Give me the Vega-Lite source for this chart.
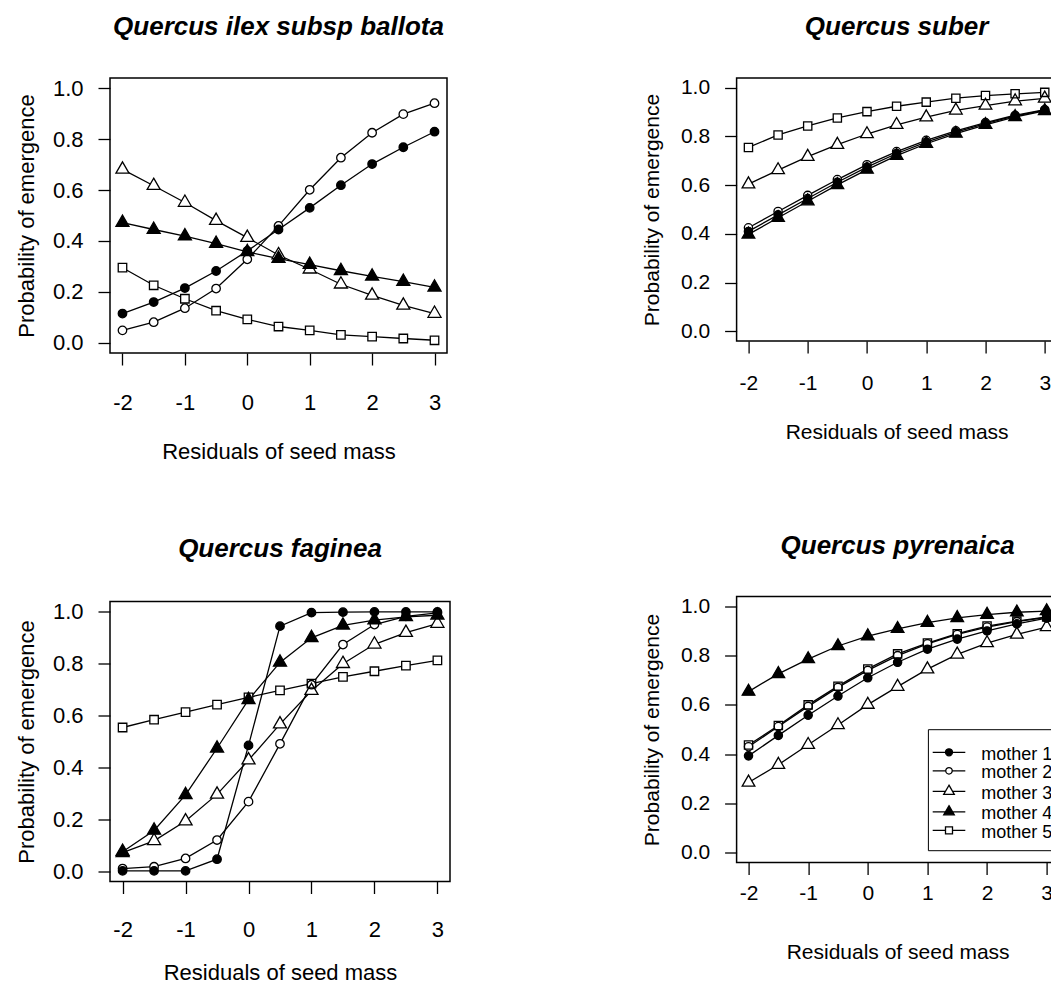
{
  "$schema": "https://vega.github.io/schema/vega-lite/v6.json",
  "background": "white",
  "padding": {"left": 14, "top": 12, "right": 0, "bottom": 0},
  "config": {
    "font": "Liberation Sans",
    "view": {"stroke": "black", "strokeWidth": 1.5},
    "axis": {"domain": false, "grid": false, "ticks": true, "tickColor": "black", "tickSize": 12, "tickWidth": 1.3, "labelColor": "black", "labelFont": "Liberation Sans", "titleColor": "black", "titleFont": "Liberation Sans", "titleFontWeight": "normal", "labelFlush": false, "labelOverlap": false, "labelBound": false},
    "title": {"font": "Liberation Sans", "fontSize": 26, "fontWeight": "bold", "fontStyle": "italic", "color": "black", "anchor": "middle", "frame": "group"}
  },
  "datasets": {
    "ilex": [
      {"x": -2, "p": 0.115, "mother": "mother 1"}, {"x": -1.5, "p": 0.160, "mother": "mother 1"}, {"x": -1, "p": 0.215, "mother": "mother 1"}, {"x": -0.5, "p": 0.282, "mother": "mother 1"}, {"x": 0, "p": 0.361, "mother": "mother 1"}, {"x": 0.5, "p": 0.445, "mother": "mother 1"}, {"x": 1, "p": 0.530, "mother": "mother 1"}, {"x": 1.5, "p": 0.619, "mother": "mother 1"}, {"x": 2, "p": 0.702, "mother": "mother 1"}, {"x": 2.5, "p": 0.768, "mother": "mother 1"}, {"x": 3, "p": 0.829, "mother": "mother 1"},
      {"x": -2, "p": 0.049, "mother": "mother 2"}, {"x": -1.5, "p": 0.081, "mother": "mother 2"}, {"x": -1, "p": 0.136, "mother": "mother 2"}, {"x": -0.5, "p": 0.213, "mother": "mother 2"}, {"x": 0, "p": 0.328, "mother": "mother 2"}, {"x": 0.5, "p": 0.459, "mother": "mother 2"}, {"x": 1, "p": 0.601, "mother": "mother 2"}, {"x": 1.5, "p": 0.727, "mother": "mother 2"}, {"x": 2, "p": 0.825, "mother": "mother 2"}, {"x": 2.5, "p": 0.898, "mother": "mother 2"}, {"x": 3, "p": 0.941, "mother": "mother 2"},
      {"x": -2, "p": 0.681, "mother": "mother 3"}, {"x": -1.5, "p": 0.617, "mother": "mother 3"}, {"x": -1, "p": 0.551, "mother": "mother 3"}, {"x": -0.5, "p": 0.480, "mother": "mother 3"}, {"x": 0, "p": 0.413, "mother": "mother 3"}, {"x": 0.5, "p": 0.345, "mother": "mother 3"}, {"x": 1, "p": 0.289, "mother": "mother 3"}, {"x": 1.5, "p": 0.230, "mother": "mother 3"}, {"x": 2, "p": 0.186, "mother": "mother 3"}, {"x": 2.5, "p": 0.147, "mother": "mother 3"}, {"x": 3, "p": 0.115, "mother": "mother 3"},
      {"x": -2, "p": 0.472, "mother": "mother 4"}, {"x": -1.5, "p": 0.445, "mother": "mother 4"}, {"x": -1, "p": 0.419, "mother": "mother 4"}, {"x": -0.5, "p": 0.390, "mother": "mother 4"}, {"x": 0, "p": 0.357, "mother": "mother 4"}, {"x": 0.5, "p": 0.331, "mother": "mother 4"}, {"x": 1, "p": 0.307, "mother": "mother 4"}, {"x": 1.5, "p": 0.283, "mother": "mother 4"}, {"x": 2, "p": 0.261, "mother": "mother 4"}, {"x": 2.5, "p": 0.240, "mother": "mother 4"}, {"x": 3, "p": 0.218, "mother": "mother 4"},
      {"x": -2, "p": 0.295, "mother": "mother 5"}, {"x": -1.5, "p": 0.226, "mother": "mother 5"}, {"x": -1, "p": 0.173, "mother": "mother 5"}, {"x": -0.5, "p": 0.126, "mother": "mother 5"}, {"x": 0, "p": 0.092, "mother": "mother 5"}, {"x": 0.5, "p": 0.064, "mother": "mother 5"}, {"x": 1, "p": 0.049, "mother": "mother 5"}, {"x": 1.5, "p": 0.031, "mother": "mother 5"}, {"x": 2, "p": 0.024, "mother": "mother 5"}, {"x": 2.5, "p": 0.017, "mother": "mother 5"}, {"x": 3, "p": 0.010, "mother": "mother 5"}
    ],
    "suber": [
      {"x": -2, "p": 0.410, "mother": "mother 1"}, {"x": -1.5, "p": 0.478, "mother": "mother 1"}, {"x": -1, "p": 0.545, "mother": "mother 1"}, {"x": -0.5, "p": 0.612, "mother": "mother 1"}, {"x": 0, "p": 0.674, "mother": "mother 1"}, {"x": 0.5, "p": 0.730, "mother": "mother 1"}, {"x": 1, "p": 0.777, "mother": "mother 1"}, {"x": 1.5, "p": 0.818, "mother": "mother 1"}, {"x": 2, "p": 0.853, "mother": "mother 1"}, {"x": 2.5, "p": 0.884, "mother": "mother 1"}, {"x": 3, "p": 0.908, "mother": "mother 1"},
      {"x": -2, "p": 0.425, "mother": "mother 2"}, {"x": -1.5, "p": 0.492, "mother": "mother 2"}, {"x": -1, "p": 0.558, "mother": "mother 2"}, {"x": -0.5, "p": 0.623, "mother": "mother 2"}, {"x": 0, "p": 0.684, "mother": "mother 2"}, {"x": 0.5, "p": 0.738, "mother": "mother 2"}, {"x": 1, "p": 0.784, "mother": "mother 2"}, {"x": 1.5, "p": 0.823, "mother": "mother 2"}, {"x": 2, "p": 0.857, "mother": "mother 2"}, {"x": 2.5, "p": 0.887, "mother": "mother 2"}, {"x": 3, "p": 0.910, "mother": "mother 2"},
      {"x": -2, "p": 0.604, "mother": "mother 3"}, {"x": -1.5, "p": 0.662, "mother": "mother 3"}, {"x": -1, "p": 0.717, "mother": "mother 3"}, {"x": -0.5, "p": 0.766, "mother": "mother 3"}, {"x": 0, "p": 0.810, "mother": "mother 3"}, {"x": 0.5, "p": 0.848, "mother": "mother 3"}, {"x": 1, "p": 0.879, "mother": "mother 3"}, {"x": 1.5, "p": 0.907, "mother": "mother 3"}, {"x": 2, "p": 0.927, "mother": "mother 3"}, {"x": 2.5, "p": 0.945, "mother": "mother 3"}, {"x": 3, "p": 0.956, "mother": "mother 3"},
      {"x": -2, "p": 0.398, "mother": "mother 4"}, {"x": -1.5, "p": 0.466, "mother": "mother 4"}, {"x": -1, "p": 0.534, "mother": "mother 4"}, {"x": -0.5, "p": 0.601, "mother": "mother 4"}, {"x": 0, "p": 0.664, "mother": "mother 4"}, {"x": 0.5, "p": 0.721, "mother": "mother 4"}, {"x": 1, "p": 0.770, "mother": "mother 4"}, {"x": 1.5, "p": 0.812, "mother": "mother 4"}, {"x": 2, "p": 0.848, "mother": "mother 4"}, {"x": 2.5, "p": 0.880, "mother": "mother 4"}, {"x": 3, "p": 0.905, "mother": "mother 4"},
      {"x": -2, "p": 0.755, "mother": "mother 5"}, {"x": -1.5, "p": 0.806, "mother": "mother 5"}, {"x": -1, "p": 0.843, "mother": "mother 5"}, {"x": -0.5, "p": 0.876, "mother": "mother 5"}, {"x": 0, "p": 0.902, "mother": "mother 5"}, {"x": 0.5, "p": 0.924, "mother": "mother 5"}, {"x": 1, "p": 0.941, "mother": "mother 5"}, {"x": 1.5, "p": 0.957, "mother": "mother 5"}, {"x": 2, "p": 0.968, "mother": "mother 5"}, {"x": 2.5, "p": 0.975, "mother": "mother 5"}, {"x": 3, "p": 0.981, "mother": "mother 5"}
    ],
    "faginea": [
      {"x": -2, "p": 0.001, "mother": "mother 1"}, {"x": -1.5, "p": 0.001, "mother": "mother 1"}, {"x": -1, "p": 0.001, "mother": "mother 1"}, {"x": -0.5, "p": 0.046, "mother": "mother 1"}, {"x": 0, "p": 0.485, "mother": "mother 1"}, {"x": 0.5, "p": 0.945, "mother": "mother 1"}, {"x": 1, "p": 0.997, "mother": "mother 1"}, {"x": 1.5, "p": 0.999, "mother": "mother 1"}, {"x": 2, "p": 1.0, "mother": "mother 1"}, {"x": 2.5, "p": 1.0, "mother": "mother 1"}, {"x": 3, "p": 1.0, "mother": "mother 1"},
      {"x": -2, "p": 0.010, "mother": "mother 2"}, {"x": -1.5, "p": 0.017, "mother": "mother 2"}, {"x": -1, "p": 0.049, "mother": "mother 2"}, {"x": -0.5, "p": 0.120, "mother": "mother 2"}, {"x": 0, "p": 0.268, "mother": "mother 2"}, {"x": 0.5, "p": 0.491, "mother": "mother 2"}, {"x": 1, "p": 0.719, "mother": "mother 2"}, {"x": 1.5, "p": 0.874, "mother": "mother 2"}, {"x": 2, "p": 0.951, "mother": "mother 2"}, {"x": 2.5, "p": 0.983, "mother": "mother 2"}, {"x": 3, "p": 0.996, "mother": "mother 2"},
      {"x": -2, "p": 0.071, "mother": "mother 3"}, {"x": -1.5, "p": 0.117, "mother": "mother 3"}, {"x": -1, "p": 0.193, "mother": "mother 3"}, {"x": -0.5, "p": 0.296, "mother": "mother 3"}, {"x": 0, "p": 0.428, "mother": "mother 3"}, {"x": 0.5, "p": 0.567, "mother": "mother 3"}, {"x": 1, "p": 0.696, "mother": "mother 3"}, {"x": 1.5, "p": 0.800, "mother": "mother 3"}, {"x": 2, "p": 0.875, "mother": "mother 3"}, {"x": 2.5, "p": 0.920, "mother": "mother 3"}, {"x": 3, "p": 0.955, "mother": "mother 3"},
      {"x": -2, "p": 0.075, "mother": "mother 4"}, {"x": -1.5, "p": 0.157, "mother": "mother 4"}, {"x": -1, "p": 0.294, "mother": "mother 4"}, {"x": -0.5, "p": 0.474, "mother": "mother 4"}, {"x": 0, "p": 0.661, "mother": "mother 4"}, {"x": 0.5, "p": 0.805, "mother": "mother 4"}, {"x": 1, "p": 0.900, "mother": "mother 4"}, {"x": 1.5, "p": 0.948, "mother": "mother 4"}, {"x": 2, "p": 0.968, "mother": "mother 4"}, {"x": 2.5, "p": 0.981, "mother": "mother 4"}, {"x": 3, "p": 0.987, "mother": "mother 4"},
      {"x": -2, "p": 0.554, "mother": "mother 5"}, {"x": -1.5, "p": 0.584, "mother": "mother 5"}, {"x": -1, "p": 0.613, "mother": "mother 5"}, {"x": -0.5, "p": 0.642, "mother": "mother 5"}, {"x": 0, "p": 0.670, "mother": "mother 5"}, {"x": 0.5, "p": 0.697, "mother": "mother 5"}, {"x": 1, "p": 0.723, "mother": "mother 5"}, {"x": 1.5, "p": 0.749, "mother": "mother 5"}, {"x": 2, "p": 0.771, "mother": "mother 5"}, {"x": 2.5, "p": 0.793, "mother": "mother 5"}, {"x": 3, "p": 0.813, "mother": "mother 5"}
    ],
    "pyrenaica": [
      {"x": -2, "p": 0.393, "mother": "mother 1"}, {"x": -1.5, "p": 0.476, "mother": "mother 1"}, {"x": -1, "p": 0.558, "mother": "mother 1"}, {"x": -0.5, "p": 0.636, "mother": "mother 1"}, {"x": 0, "p": 0.710, "mother": "mother 1"}, {"x": 0.5, "p": 0.773, "mother": "mother 1"}, {"x": 1, "p": 0.826, "mother": "mother 1"}, {"x": 1.5, "p": 0.867, "mother": "mother 1"}, {"x": 2, "p": 0.900, "mother": "mother 1"}, {"x": 2.5, "p": 0.929, "mother": "mother 1"}, {"x": 3, "p": 0.952, "mother": "mother 1"},
      {"x": -2, "p": 0.430, "mother": "mother 2"}, {"x": -1.5, "p": 0.512, "mother": "mother 2"}, {"x": -1, "p": 0.594, "mother": "mother 2"}, {"x": -0.5, "p": 0.671, "mother": "mother 2"}, {"x": 0, "p": 0.740, "mother": "mother 2"}, {"x": 0.5, "p": 0.800, "mother": "mother 2"}, {"x": 1, "p": 0.848, "mother": "mother 2"}, {"x": 1.5, "p": 0.886, "mother": "mother 2"}, {"x": 2, "p": 0.916, "mother": "mother 2"}, {"x": 2.5, "p": 0.938, "mother": "mother 2"}, {"x": 3, "p": 0.955, "mother": "mother 2"},
      {"x": -2, "p": 0.285, "mother": "mother 3"}, {"x": -1.5, "p": 0.357, "mother": "mother 3"}, {"x": -1, "p": 0.438, "mother": "mother 3"}, {"x": -0.5, "p": 0.518, "mother": "mother 3"}, {"x": 0, "p": 0.601, "mother": "mother 3"}, {"x": 0.5, "p": 0.674, "mother": "mother 3"}, {"x": 1, "p": 0.745, "mother": "mother 3"}, {"x": 1.5, "p": 0.805, "mother": "mother 3"}, {"x": 2, "p": 0.851, "mother": "mother 3"}, {"x": 2.5, "p": 0.886, "mother": "mother 3"}, {"x": 3, "p": 0.916, "mother": "mother 3"},
      {"x": -2, "p": 0.654, "mother": "mother 4"}, {"x": -1.5, "p": 0.726, "mother": "mother 4"}, {"x": -1, "p": 0.786, "mother": "mother 4"}, {"x": -0.5, "p": 0.839, "mother": "mother 4"}, {"x": 0, "p": 0.879, "mother": "mother 4"}, {"x": 0.5, "p": 0.909, "mother": "mother 4"}, {"x": 1, "p": 0.934, "mother": "mother 4"}, {"x": 1.5, "p": 0.953, "mother": "mother 4"}, {"x": 2, "p": 0.966, "mother": "mother 4"}, {"x": 2.5, "p": 0.976, "mother": "mother 4"}, {"x": 3, "p": 0.981, "mother": "mother 4"},
      {"x": -2, "p": 0.437, "mother": "mother 5"}, {"x": -1.5, "p": 0.516, "mother": "mother 5"}, {"x": -1, "p": 0.600, "mother": "mother 5"}, {"x": -0.5, "p": 0.676, "mother": "mother 5"}, {"x": 0, "p": 0.746, "mother": "mother 5"}, {"x": 0.5, "p": 0.807, "mother": "mother 5"}, {"x": 1, "p": 0.851, "mother": "mother 5"}, {"x": 1.5, "p": 0.889, "mother": "mother 5"}, {"x": 2, "p": 0.920, "mother": "mother 5"}, {"x": 2.5, "p": 0.940, "mother": "mother 5"}, {"x": 3, "p": 0.957, "mother": "mother 5"}
    ]
  },
  "spacing": 188.6,
  "resolve": {"scale": {"shape": "independent", "fill": "independent"}, "legend": {"shape": "independent", "fill": "independent"}},
  "hconcat": [
    {
      "spacing": 71.5,
      "resolve": {"scale": {"shape": "independent", "fill": "independent"}, "legend": {"shape": "independent", "fill": "independent"}},
      "vconcat": [
        {
          "title": {"text": "Quercus ilex subsp ballota", "offset": 36.7},
          "width": 337, "height": 275,
          "data": {"name": "ilex"},
          "encoding": {
            "x": {"field": "x", "type": "quantitative", "scale": {"domain": [-2.2, 3.2], "nice": false, "zero": false}, "axis": {"title": "Residuals of seed mass", "values": [-2, -1, 0, 1, 2, 3], "labelExpr": "'' + datum.value", "labelFontSize": 22, "titleFontSize": 22, "labelPadding": 27.25, "titlePadding": 28}},
            "y": {"field": "p", "type": "quantitative", "scale": {"domain": [-0.04, 1.04], "nice": false, "zero": false}, "axis": {"title": "Probability of emergence", "values": [0, 0.2, 0.4, 0.6, 0.8, 1], "format": ".1f", "labelFontSize": 22, "titleFontSize": 22, "labelPadding": 15, "titlePadding": 14.4}}
          },
          "layer": [
            {"mark": {"type": "line", "color": "black", "strokeWidth": 1.3}, "encoding": {"detail": {"field": "mother", "type": "nominal"}}},
            {"mark": {"type": "point", "fill": "white", "fillOpacity": 1, "strokeOpacity": 0, "opacity": 1},
             "encoding": {
               "shape": {"field": "mother", "type": "nominal", "scale": {"domain": ["mother 1", "mother 2", "mother 3", "mother 4", "mother 5"], "range": ["circle", "circle", "M0,-1.155L1,0.577L-1,0.577Z", "M0,-1.155L1,0.577L-1,0.577Z", "square"]}, "legend": null},
               "size": {"condition": {"test": "datum.mother === 'mother 3' || datum.mother === 'mother 4'", "value": 170}, "value": 72}
             }},
            {"mark": {"type": "point", "fill": "black", "stroke": "black", "strokeWidth": 1.3, "opacity": 1},
             "encoding": {
               "shape": {"field": "mother", "type": "nominal", "scale": {"domain": ["mother 1", "mother 2", "mother 3", "mother 4", "mother 5"], "range": ["circle", "circle", "M0,-1.155L1,0.577L-1,0.577Z", "M0,-1.155L1,0.577L-1,0.577Z", "square"]}, "legend": null},
               "size": {"condition": {"test": "datum.mother === 'mother 3' || datum.mother === 'mother 4'", "value": 170}, "value": 72},
               "fillOpacity": {"condition": {"test": "datum.mother === 'mother 1' || datum.mother === 'mother 4'", "value": 1}, "value": 0}
             }}
          ]
        },
        {
          "title": {"text": "Quercus faginea", "offset": 38.97},
          "width": 340, "height": 280,
          "data": {"name": "faginea"},
          "encoding": {
            "x": {"field": "x", "type": "quantitative", "scale": {"domain": [-2.2, 3.2], "nice": false, "zero": false}, "axis": {"title": "Residuals of seed mass", "values": [-2, -1, 0, 1, 2, 3], "labelExpr": "'' + datum.value", "labelFontSize": 22, "titleFontSize": 22, "labelPadding": 26.15, "titlePadding": 22}},
            "y": {"field": "p", "type": "quantitative", "scale": {"domain": [-0.04, 1.04], "nice": false, "zero": false}, "axis": {"title": "Probability of emergence", "values": [0, 0.2, 0.4, 0.6, 0.8, 1], "format": ".1f", "labelFontSize": 22, "titleFontSize": 22, "labelPadding": 15, "titlePadding": 14.4}}
          },
          "layer": [
            {"mark": {"type": "line", "color": "black", "strokeWidth": 1.3}, "encoding": {"detail": {"field": "mother", "type": "nominal"}}},
            {"mark": {"type": "point", "fill": "white", "fillOpacity": 1, "strokeOpacity": 0, "opacity": 1},
             "encoding": {
               "shape": {"field": "mother", "type": "nominal", "scale": {"domain": ["mother 1", "mother 2", "mother 3", "mother 4", "mother 5"], "range": ["circle", "circle", "M0,-1.155L1,0.577L-1,0.577Z", "M0,-1.155L1,0.577L-1,0.577Z", "square"]}, "legend": null},
               "size": {"condition": {"test": "datum.mother === 'mother 3' || datum.mother === 'mother 4'", "value": 170}, "value": 72}
             }},
            {"mark": {"type": "point", "fill": "black", "stroke": "black", "strokeWidth": 1.3, "opacity": 1},
             "encoding": {
               "shape": {"field": "mother", "type": "nominal", "scale": {"domain": ["mother 1", "mother 2", "mother 3", "mother 4", "mother 5"], "range": ["circle", "circle", "M0,-1.155L1,0.577L-1,0.577Z", "M0,-1.155L1,0.577L-1,0.577Z", "square"]}, "legend": null},
               "size": {"condition": {"test": "datum.mother === 'mother 3' || datum.mother === 'mother 4'", "value": 170}, "value": 72},
               "fillOpacity": {"condition": {"test": "datum.mother === 'mother 1' || datum.mother === 'mother 4'", "value": 1}, "value": 0}
             }}
          ]
        }
      ]
    },
    {
      "spacing": 88.5,
      "resolve": {"scale": {"shape": "independent", "fill": "independent"}, "legend": {"shape": "independent", "fill": "independent"}},
      "vconcat": [
        {
          "title": {"text": "Quercus suber", "offset": 37.2},
          "width": 320, "height": 263,
          "data": {"name": "suber"},
          "encoding": {
            "x": {"field": "x", "type": "quantitative", "scale": {"domain": [-2.2, 3.2], "nice": false, "zero": false}, "axis": {"title": "Residuals of seed mass", "values": [-2, -1, 0, 1, 2, 3], "labelExpr": "'' + datum.value", "labelFontSize": 21, "titleFontSize": 21, "labelPadding": 19.8, "titlePadding": 27.4}},
            "y": {"field": "p", "type": "quantitative", "scale": {"domain": [-0.04, 1.04], "nice": false, "zero": false}, "axis": {"title": "Probability of emergence", "values": [0, 0.2, 0.4, 0.6, 0.8, 1], "format": ".1f", "labelFontSize": 21, "titleFontSize": 21, "labelPadding": 15, "titlePadding": 18.4}}
          },
          "layer": [
            {"mark": {"type": "line", "color": "black", "strokeWidth": 1.3}, "encoding": {"detail": {"field": "mother", "type": "nominal"}}},
            {"mark": {"type": "point", "fill": "white", "fillOpacity": 1, "strokeOpacity": 0, "opacity": 1},
             "encoding": {
               "shape": {"field": "mother", "type": "nominal", "scale": {"domain": ["mother 1", "mother 2", "mother 3", "mother 4", "mother 5"], "range": ["circle", "circle", "M0,-1.155L1,0.577L-1,0.577Z", "M0,-1.155L1,0.577L-1,0.577Z", "square"]}, "legend": null},
               "size": {"condition": {"test": "datum.mother === 'mother 3' || datum.mother === 'mother 4'", "value": 160}, "value": 68}
             }},
            {"mark": {"type": "point", "fill": "black", "stroke": "black", "strokeWidth": 1.3, "opacity": 1},
             "encoding": {
               "shape": {"field": "mother", "type": "nominal", "scale": {"domain": ["mother 1", "mother 2", "mother 3", "mother 4", "mother 5"], "range": ["circle", "circle", "M0,-1.155L1,0.577L-1,0.577Z", "M0,-1.155L1,0.577L-1,0.577Z", "square"]}, "legend": null},
               "size": {"condition": {"test": "datum.mother === 'mother 3' || datum.mother === 'mother 4'", "value": 160}, "value": 68},
               "fillOpacity": {"condition": {"test": "datum.mother === 'mother 1' || datum.mother === 'mother 4'", "value": 1}, "value": 0}
             }}
          ]
        },
        {
          "title": {"text": "Quercus pyrenaica", "offset": 36.45},
          "width": 322, "height": 266,
          "data": {"name": "pyrenaica"},
          "encoding": {
            "x": {"field": "x", "type": "quantitative", "scale": {"domain": [-2.2, 3.2], "nice": false, "zero": false}, "axis": {"title": "Residuals of seed mass", "values": [-2, -1, 0, 1, 2, 3], "labelExpr": "'' + datum.value", "labelFontSize": 21, "titleFontSize": 21, "labelPadding": 8, "titlePadding": 38}},
            "y": {"field": "p", "type": "quantitative", "scale": {"domain": [-0.04, 1.04], "nice": false, "zero": false}, "axis": {"title": "Probability of emergence", "values": [0, 0.2, 0.4, 0.6, 0.8, 1], "format": ".1f", "labelFontSize": 21, "titleFontSize": 21, "labelPadding": 15, "titlePadding": 18.4}}
          },
          "layer": [
            {"mark": {"type": "line", "color": "black", "strokeWidth": 1.3}, "encoding": {"detail": {"field": "mother", "type": "nominal"}}},
            {"mark": {"type": "point", "fillOpacity": 1, "strokeOpacity": 0, "opacity": 1},
             "encoding": {
               "shape": {"field": "mother", "type": "nominal", "scale": {"range": ["circle", "circle", "M0,-1.155L1,0.577L-1,0.577Z", "M0,-1.155L1,0.577L-1,0.577Z", "square"]}, "legend": null},
               "size": {"condition": {"test": "datum.mother === 'mother 3' || datum.mother === 'mother 4'", "value": 160}, "value": 68},
               "fill": {"field": "mother", "type": "nominal", "scale": {"domain": ["mother 1", "mother 2", "mother 3", "mother 4", "mother 5"], "range": ["black", "white", "white", "black", "white"]},
                 "legend": {
                   "orient": "none", "legendX": 191.3, "legendY": 132.7,
                   "title": " ", "titleFontSize": 8, "titlePadding": 0.3,
                   "padding": 8, "rowPadding": 0.5,
                   "symbolOffset": 4.1, "labelOffset": 23.2,
                   "symbolSize": 100, "symbolStrokeWidth": 1.3, "symbolStrokeColor": "black",
                   "labelFontSize": 18, "labelFont": "Liberation Sans", "labelColor": "black",
                   "fillColor": "white", "strokeColor": "black",
                   "encoding": {
                     "symbols": {
                       "shape": {"value": {"expr": "datum.value === 'mother 1' ? 'M-3.26,-0.44H3.26M-0.7,-0.44A0.7,0.7,0,1,0,0.7,-0.44A0.7,0.7,0,1,0,-0.7,-0.44Z' : datum.value === 'mother 2' ? 'M-3.26,-0.44H-0.65M0.65,-0.44H3.26M-0.65,-0.44A0.65,0.65,0,1,0,0.65,-0.44A0.65,0.65,0,1,0,-0.65,-0.44Z' : datum.value === 'mother 3' ? 'M-3.26,-0.44H-0.71M0.71,-0.44H3.26M0,-1.66L1.06,0.17L-1.06,0.17Z' : datum.value === 'mother 4' ? 'M-3.26,-0.44H3.26M0,-1.66L1.06,0.17L-1.06,0.17Z' : 'M-3.26,-0.44H-0.7M0.7,-0.44H3.26M-0.7,-1.14H0.7V0.26H-0.7Z'"}},
                       "fillOpacity": {"value": 1},
                       "stroke": {"value": "black"},
                       "strokeOpacity": {"value": 1},
                       "strokeWidth": {"value": 1.3},
                       "opacity": {"value": 1},
                       "size": {"value": 100}
                     }
                   }
                 }}
             }},
            {"mark": {"type": "point", "fill": "black", "stroke": "black", "strokeWidth": 1.3, "opacity": 1},
             "encoding": {
               "shape": {"field": "mother", "type": "nominal", "scale": {"range": ["circle", "circle", "M0,-1.155L1,0.577L-1,0.577Z", "M0,-1.155L1,0.577L-1,0.577Z", "square"]}, "legend": null},
               "size": {"condition": {"test": "datum.mother === 'mother 3' || datum.mother === 'mother 4'", "value": 160}, "value": 68},
               "fillOpacity": {"condition": {"test": "datum.mother === 'mother 1' || datum.mother === 'mother 4'", "value": 1}, "value": 0}
             }}
          ]
        }
      ]
    }
  ]
}
